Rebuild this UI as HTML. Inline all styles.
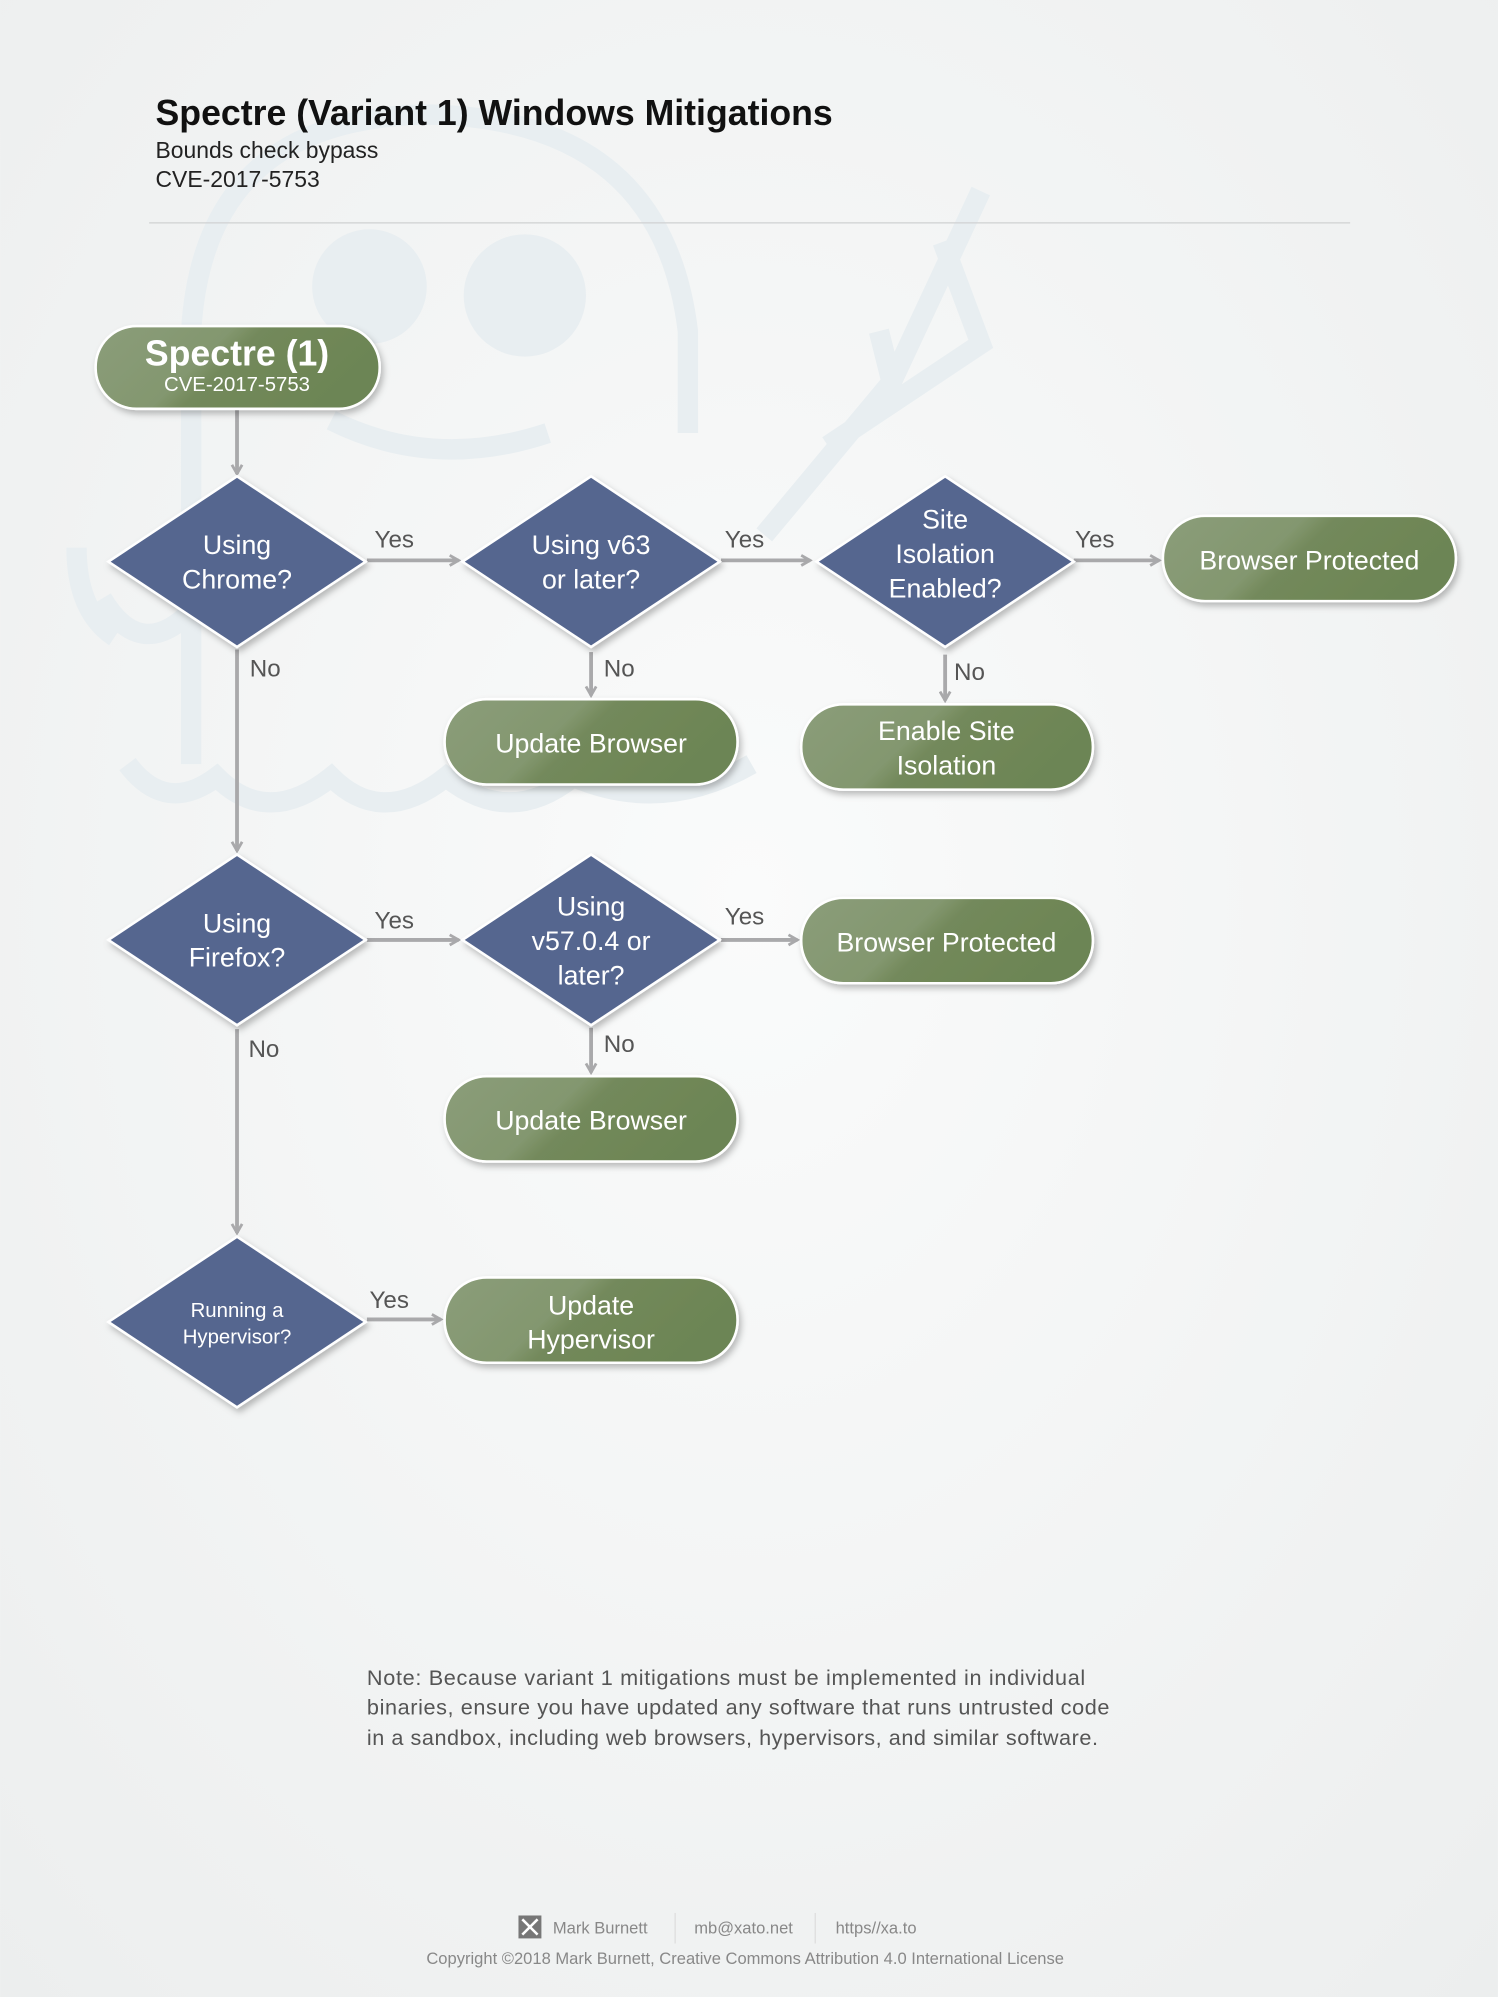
<!DOCTYPE html>
<html><head><meta charset="utf-8"><style>
html,body{margin:0;padding:0;background:#f3f4f4;}
svg{display:block;}
text{font-family:"Liberation Sans",sans-serif;}
</style></head><body>
<svg width="1498" height="1997" viewBox="0 0 1176 1568" xmlns="http://www.w3.org/2000/svg">
<defs>
<radialGradient id="bg" cx="0.5" cy="0.45" r="0.75"><stop offset="0" stop-color="#fafbfb"/><stop offset="1" stop-color="#eceeee"/></radialGradient>
<linearGradient id="gr" x1="0" y1="0" x2="1" y2="0.3"><stop offset="0" stop-color="#8b9d7a"/><stop offset="0.45" stop-color="#83976f"/><stop offset="0.55" stop-color="#73895b"/><stop offset="1" stop-color="#6c8554"/></linearGradient>
<marker id="ar" markerWidth="10" markerHeight="10" refX="8" refY="5" orient="auto" markerUnits="userSpaceOnUse"><path d="M1,1 L8,5 L1,9" fill="none" stroke="#a9a9ab" stroke-width="2.2"/></marker>
<filter id="sh" x="-10%" y="-10%" width="130%" height="140%"><feDropShadow dx="2" dy="3" stdDeviation="2.5" flood-color="#000" flood-opacity="0.25"/></filter>
</defs>
<rect width="1176" height="1568" fill="url(#bg)"/>
<!-- ghost watermark -->
<g fill="none" stroke="#e8eef1" stroke-width="16">
<path d="M150,600 L150,260 Q160,90 340,90 Q520,95 540,260 L540,340"/>
<path d="M260,330 Q340,370 430,340"/>
<path d="M770,150 L700,300 L600,420 M740,190 L770,270 L650,350 M690,260 L700,300"/>
<path d="M100,600 Q130,640 170,610 Q210,650 260,610 Q300,650 350,610 Q400,650 450,610 Q520,640 590,600"/>
<path d="M60,430 Q60,480 90,500 M80,470 Q110,520 150,480"/>
</g>
<circle cx="290" cy="225" r="45" fill="#e8eef1"/>
<circle cx="412" cy="232" r="48" fill="#e8eef1"/>
<!-- title -->
<text x="122" y="98" font-size="28" font-weight="bold" fill="#111">Spectre (Variant 1) Windows Mitigations</text>
<text x="122" y="124" font-size="18" fill="#222">Bounds check bypass</text>
<text x="122" y="147" font-size="18" fill="#222">CVE-2017-5753</text>
<line x1="117" y1="175" x2="1060" y2="175" stroke="#cfd1d2" stroke-width="1"/>
<!-- arrows -->
<g stroke="#a9a9ab" stroke-width="3" fill="none" marker-end="url(#ar)">
<line x1="186" y1="322" x2="186" y2="372"/>
<line x1="288" y1="440" x2="360" y2="440"/>
<line x1="566" y1="440" x2="636" y2="440"/>
<line x1="843" y1="440" x2="910" y2="440"/>
<line x1="464" y1="512" x2="464" y2="546"/>
<line x1="742" y1="514" x2="742" y2="550"/>
<line x1="186" y1="510" x2="186" y2="668"/>
<line x1="288" y1="738" x2="360" y2="738"/>
<line x1="566" y1="738" x2="626" y2="738"/>
<line x1="464" y1="807" x2="464" y2="842"/>
<line x1="186" y1="808" x2="186" y2="968"/>
<line x1="288" y1="1036" x2="346" y2="1036"/>
</g>
<g font-size="19" fill="#555">
<text x="294" y="430">Yes</text><text x="569" y="430">Yes</text><text x="844" y="430">Yes</text>
<text x="196" y="531">No</text><text x="474" y="531">No</text><text x="749" y="534">No</text>
<text x="294" y="729">Yes</text><text x="569" y="726">Yes</text>
<text x="195" y="830">No</text><text x="474" y="826">No</text>
<text x="290" y="1027">Yes</text>
</g>
<!-- start -->
<rect x="75" y="256" width="223" height="65" rx="32" fill="url(#gr)" stroke="#fff" stroke-width="2" filter="url(#sh)"/>
<text x="186" y="287" font-size="28" font-weight="bold" fill="#fff" text-anchor="middle">Spectre (1)</text>
<text x="186" y="307" font-size="16" fill="#fff" text-anchor="middle">CVE-2017-5753</text>
<!-- diamonds -->
<g fill="#55668f" stroke="#fff" stroke-width="2" filter="url(#sh)">
<path d="M186,374 L287,441 L186,508 L85,441Z"/>
<path d="M464,374 L565,441 L464,508 L363,441Z"/>
<path d="M742,374 L843,441 L742,508 L641,441Z"/>
<path d="M186,671 L287,738 L186,805 L85,738Z"/>
<path d="M464,671 L565,738 L464,805 L363,738Z"/>
<path d="M186,971 L287,1038 L186,1105 L85,1038Z"/>
</g>
<g fill="#fff" text-anchor="middle" font-size="21">
<text x="186" y="435">Using</text><text x="186" y="462">Chrome?</text>
<text x="464" y="435">Using v63</text><text x="464" y="462">or later?</text>
<text x="742" y="415">Site</text><text x="742" y="442">Isolation</text><text x="742" y="469">Enabled?</text>
<text x="186" y="732">Using</text><text x="186" y="759">Firefox?</text>
<text x="464" y="719">Using</text><text x="464" y="746">v57.0.4 or</text><text x="464" y="773">later?</text>
<text x="186" y="1034" font-size="16">Running a</text><text x="186" y="1055" font-size="16">Hypervisor?</text>
</g>
<!-- pills -->
<g fill="url(#gr)" stroke="#fff" stroke-width="2" filter="url(#sh)">
<rect x="913" y="405" width="230" height="67" rx="33"/>
<rect x="349" y="549" width="230" height="67" rx="33"/>
<rect x="629" y="553" width="229" height="67" rx="33"/>
<rect x="629" y="705" width="229" height="67" rx="33"/>
<rect x="349" y="845" width="230" height="67" rx="33"/>
<rect x="349" y="1003" width="230" height="67" rx="33"/>
</g>
<g fill="#fff" text-anchor="middle" font-size="21">
<text x="1028" y="447">Browser Protected</text>
<text x="464" y="591">Update Browser</text>
<text x="743" y="581">Enable Site</text><text x="743" y="608">Isolation</text>
<text x="743" y="747">Browser Protected</text>
<text x="464" y="887">Update Browser</text>
<text x="464" y="1032">Update</text><text x="464" y="1059">Hypervisor</text>
</g>
<!-- note -->
<g font-size="17" fill="#555">
<text x="288" y="1323" textLength="564">Note: Because variant 1 mitigations must be implemented in individual</text>
<text x="288" y="1346" textLength="583">binaries, ensure you have updated any software that runs untrusted code</text>
<text x="288" y="1370" textLength="574">in a sandbox, including web browsers, hypervisors, and similar software.</text>
</g>
<!-- footer -->
<rect x="407" y="1504" width="18" height="18" fill="#777"/>
<path d="M410,1507 L422,1519 M422,1507 L410,1519" stroke="#fff" stroke-width="2"/>
<g font-size="13" fill="#888">
<text x="434" y="1518">Mark Burnett</text>
<text x="545" y="1518">mb@xato.net</text>
<text x="656" y="1518">https//xa.to</text>
<text x="585" y="1542" text-anchor="middle">Copyright ©2018 Mark Burnett, Creative Commons Attribution 4.0 International License</text>
</g>
<line x1="530" y1="1502" x2="530" y2="1526" stroke="#ddd"/>
<line x1="640" y1="1502" x2="640" y2="1526" stroke="#ddd"/>
</svg>
</body></html>
